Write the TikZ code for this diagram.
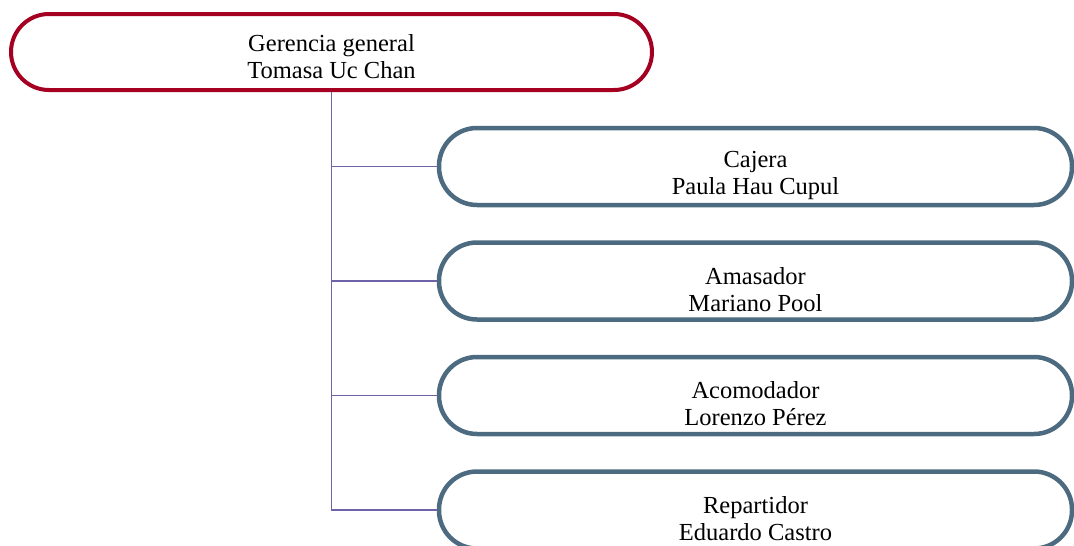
\documentclass[tikz,border=0pt]{standalone}
\usepackage{fontspec}
\setmainfont{Liberation Serif}
\usepackage{tikz}
\usetikzlibrary{positioning}
\definecolor{bossred}{RGB}{165,0,33}
\definecolor{staffblue}{RGB}{77,107,128}
\definecolor{linkviolet}{RGB}{110,99,168}
% invisible struts that push the text lines down inside the boxes
\newcommand{\bosspad}{\rule{0pt}{26pt}}
\newcommand{\staffpad}{\rule{0pt}{34pt}}

\begin{document}
\begin{tikzpicture}[x=1pt, y=1pt,
        boss/.style={draw=bossred, line width=4pt, fill=white, rounded corners=38pt,
            minimum width=641pt, minimum height=76pt, align=center,
            font=\fontsize{24.5}{27}\selectfont},
        staff/.style={draw=staffblue, line width=4.5pt, fill=white, rounded corners=38pt,
            minimum width=633pt, minimum height=77pt, align=center,
            font=\fontsize{24.5}{27}\selectfont},
        link/.style={draw=linkviolet, line width=1.5pt}]
        \useasboundingbox (0, 0) rectangle (1074, -546);

        \node[boss] at (331.5, -52)   (G) {\bosspad Gerencia general\\Tomasa Uc Chan};
        \node[staff] at (755.5, -166.5)   (C) {\staffpad Cajera\\Paula Hau Cupul};
        \node[staff] at (755.5, -281)   (M) {\staffpad Amasador\\Mariano Pool};
        \node[staff] at (755.5, -395.5)   (L) {\staffpad Acomodador\\Lorenzo Pérez};
        \node[staff] at (755.5, -510)   (E) {\staffpad Repartidor\\Eduardo Castro};

        \draw [link] (G.south) |- (C.west);
        \draw [link] (G.south) |- (M.west);
        \draw [link] (G.south) |- (L.west);
        \draw [link] (G.south) |- (E.west);
    \end{tikzpicture}
\end{document}
